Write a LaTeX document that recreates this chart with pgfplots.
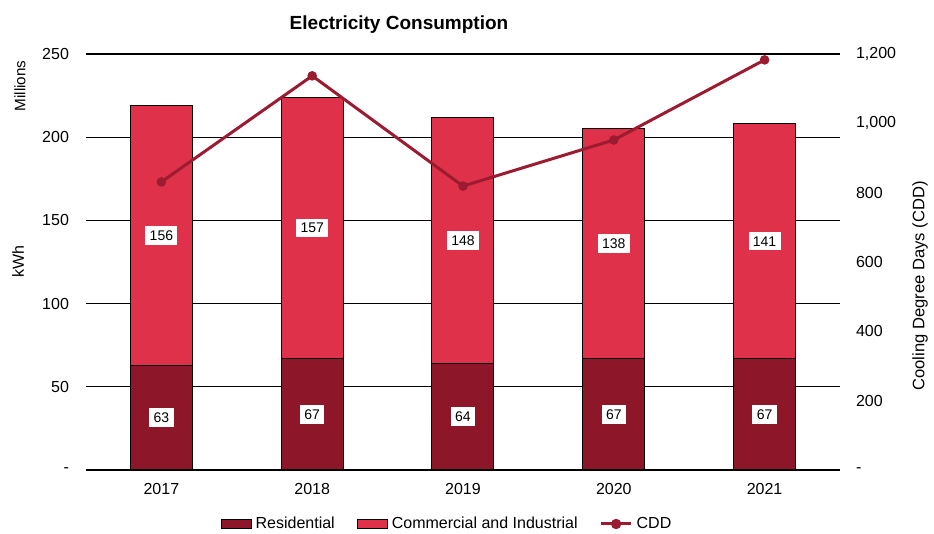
\documentclass[border=0pt]{standalone}
\usepackage{pgfplots}
\pgfplotsset{compat=1.18}
\usepackage{fontspec}
\setmainfont{Liberation Sans}
\definecolor{resid}{RGB}{141,23,40}
\definecolor{comm}{RGB}{224,49,74}
\definecolor{cdd}{RGB}{155,27,48}
\pgfplotsset{
  boxlegend/.style={legend image code/.code={\draw[##1] (0pt,-2.3pt) rectangle (15pt,2.3pt);}},
  linelegend/.style={legend image code/.code={\draw[##1, mark=none] (0pt,0pt) -- (15pt,0pt); \fill[cdd] (7.5pt,0pt) circle (1.8pt);}},
}
\begin{document}
\begin{tikzpicture}[x=1pt,y=1pt]
\useasboundingbox (-43,-32) rectangle (424,235);
\pgfplotsset{
  every axis/.append style={
    scale only axis, width=377pt, height=208pt,
    xmin=-0.5, xmax=4.5,
    font=\fontsize{8}{9.6}\selectfont,
    /pgf/number format/assume math mode=true,
    tick style={draw=none},
  }
}
\begin{axis}[
  at={(0,0)}, anchor=south west,
  ybar stacked, bar width=31pt,
  ymin=0, ymax=250,
  ytick={0,50,100,150,200,250},
  yticklabels={-,50,100,150,200,250},
  yticklabel style={xshift=-5pt},
  xtick={0,1,2,3,4},
  xticklabels={2017,2018,2019,2020,2021},
  xticklabel style={yshift=-3pt},
  axis line style={draw=none},
  ymajorgrids, grid style={black, line width=0.6pt},
]
\addplot[fill=resid, draw=black, line width=0.5pt] coordinates {(0,63) (1,67) (2,64) (3,67) (4,67)};
\addplot[fill=comm, draw=black, line width=0.5pt] coordinates {(0,156) (1,157) (2,148) (3,138) (4,141)};
\end{axis}
% labels at segment midpoints
\begin{axis}[
  at={(0,0)}, anchor=south west,
  ymin=0, ymax=250, hide axis,
]
\addplot[only marks, mark=none, nodes near coords, point meta=explicit symbolic,
  every node near coord/.append style={anchor=center, fill=white, text=black, inner sep=2.2pt, font=\fontsize{7}{8}\selectfont}]
  table[meta=lab] {
x y lab
0 31.5 63
1 33.5 67
2 32 64
3 33.5 67
4 33.5 67
0 141 156
1 145.5 157
2 138 148
3 136 138
4 137.5 141
};
\end{axis}
\begin{axis}[
  at={(0,0)}, anchor=south west,
  ymin=0, ymax=1200,
  axis x line=none,
  axis y line*=right,
  axis line style={draw=none},
  ytick={0,200,400,600,800,1000,1200},
  yticklabels={-,200,400,600,800,{1,000},{1,200}},
  yticklabel style={xshift=4.5pt, anchor=west},
  legend columns=3,
  legend style={at={(181pt,-27pt)}, anchor=center, draw=none, fill=none,
    font=\fontsize{8}{9.6}\selectfont,
    /tikz/every even column/.append style={column sep=9pt}},
  legend cell align=left,
]
\addlegendimage{fill=resid, draw=black, line width=0.5pt, boxlegend}
\addlegendentry{Residential}
\addlegendimage{fill=comm, draw=black, line width=0.5pt, boxlegend}
\addlegendentry{Commercial and Industrial}
\addplot[cdd, line width=1.5pt, mark=*, mark size=1.6pt, linelegend] coordinates {(0,831) (1,1137) (2,819) (3,952) (4,1183)};
\addlegendentry{CDD}
\end{axis}
\node[font=\bfseries\fontsize{9.5}{11}\selectfont] at (156.5,222.5) {Electricity Consumption};
\node[rotate=90, font=\fontsize{7.6}{9}\selectfont] at (-33,192) {Millions};
\node[rotate=90, font=\fontsize{8}{9.6}\selectfont] at (-34,104) {kWh};
\node[rotate=90, font=\fontsize{8.3}{10}\selectfont] at (417,92) {Cooling Degree Days (CDD)};
\end{tikzpicture}
\end{document}
